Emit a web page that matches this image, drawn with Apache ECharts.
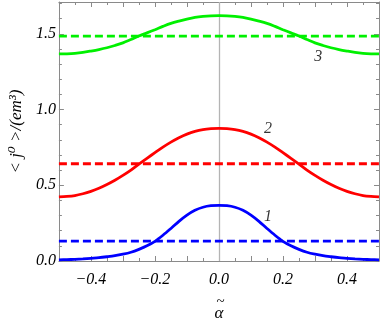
<!DOCTYPE html>
<html>
<head>
<meta charset="utf-8">
<script src="https://cdn.jsdelivr.net/npm/echarts@6/dist/echarts.min.js"></script>
<style>
  html, body { margin: 0; padding: 0; background: #fff; }
  #main { width: 382px; height: 327px; }
</style>
</head>
<body>
<div id="main"></div>
<script>
// alpha values (x), read every 0.025
const alphas = [-0.5, -0.475, -0.45, -0.425, -0.4, -0.375, -0.35, -0.325, -0.3, -0.275,
  -0.25, -0.225, -0.2, -0.175, -0.15, -0.125, -0.1, -0.075, -0.05, -0.025, 0,
  0.025, 0.05, 0.075, 0.1, 0.125, 0.15, 0.175, 0.2, 0.225, 0.25,
  0.275, 0.3, 0.325, 0.35, 0.375, 0.4, 0.425, 0.45, 0.475, 0.5];

// curve 1 (blue)
const curve1 = [0.008, 0.009, 0.011, 0.014, 0.018, 0.022, 0.028, 0.035, 0.045, 0.058,
  0.077, 0.1, 0.13, 0.17, 0.215, 0.262, 0.303, 0.335, 0.355, 0.365, 0.367,
  0.365, 0.355, 0.335, 0.303, 0.262, 0.215, 0.17, 0.13, 0.1, 0.077,
  0.058, 0.045, 0.035, 0.028, 0.022, 0.018, 0.014, 0.011, 0.009, 0.008];
// curve 2 (red)
const curve2 = [0.423, 0.426, 0.432, 0.444, 0.46, 0.48, 0.505, 0.533, 0.565, 0.6,
  0.64, 0.678, 0.715, 0.752, 0.785, 0.814, 0.838, 0.856, 0.868, 0.874, 0.876,
  0.874, 0.868, 0.856, 0.838, 0.814, 0.785, 0.752, 0.715, 0.678, 0.64,
  0.6, 0.565, 0.533, 0.505, 0.48, 0.46, 0.444, 0.432, 0.426, 0.423];
// curve 3 (green)
const curve3 = [1.367, 1.368, 1.371, 1.377, 1.386, 1.396, 1.408, 1.423, 1.44, 1.462,
  1.485, 1.506, 1.527, 1.549, 1.569, 1.584, 1.597, 1.608, 1.615, 1.619, 1.62,
  1.619, 1.615, 1.608, 1.597, 1.584, 1.569, 1.549, 1.527, 1.506, 1.485,
  1.462, 1.44, 1.423, 1.408, 1.396, 1.386, 1.377, 1.371, 1.368, 1.367];

// dashed averages
const avgValues = [0.131, 0.642, 1.485];
const colors = ['#0000ff', '#ff0000', '#00f000'];

// curve labels
const labelNames = ['1', '2', '3'];
const labelX = [0.153, 0.153, 0.31];
const labelY = [0.29, 0.87, 1.35];

const serif = '"Liberation Serif", "DejaVu Serif", serif';
const frameColor = '#8a8a8a';

const curves = [curve1, curve2, curve3];
const series = [];

curves.forEach((c, i) => {
  series.push({
    type: 'line',
    data: alphas.map((a, k) => [a, c[k]]),
    smooth: 0.3,
    showSymbol: false,
    lineStyle: { color: colors[i], width: 2.8 },
    z: 3
  });
});

avgValues.forEach((v, i) => {
  series.push({
    type: 'line',
    data: [[alphas[0], v], [alphas[alphas.length - 1], v]],
    showSymbol: false,
    lineStyle: { color: colors[i], width: 2.8, type: [8, 4] },
    z: 4
  });
});

// vertical reference line at alpha = 0
series[0].markLine = {
  silent: true,
  symbol: 'none',
  label: { show: false },
  lineStyle: { color: '#b4b4b4', width: 1.3, type: 'solid' },
  data: [{ xAxis: 0 }],
  z: 1
};

series.push({
  type: 'scatter',
  symbolSize: 0,
  data: labelNames.map((n, i) => ({ name: n, value: [labelX[i], labelY[i]] })),
  label: {
    show: true,
    position: 'inside',
    formatter: (p) => p.name,
    fontFamily: serif,
    fontStyle: 'italic',
    fontSize: 16,
    color: '#000'
  },
  z: 5
});

const tickFont = { fontFamily: serif, fontStyle: 'italic', fontSize: 16, color: '#000' };

const xBase = {
  type: 'value',
  min: -0.5,
  max: 0.5,
  interval: 0.1,
  axisLine: { show: true, onZero: false, lineStyle: { color: frameColor, width: 1 } },
  axisTick: { show: true, inside: true, length: 5, lineStyle: { color: frameColor } },
  minorTick: { show: true, splitNumber: 2, length: 3, lineStyle: { color: frameColor } },
  splitLine: { show: false }
};
const yBase = {
  type: 'value',
  min: 0,
  max: 1.71,
  interval: 0.5,
  axisLine: { show: true, onZero: false, lineStyle: { color: frameColor, width: 1 } },
  axisTick: { show: true, inside: true, length: 5, lineStyle: { color: frameColor } },
  minorTick: { show: true, splitNumber: 5, length: 3, lineStyle: { color: frameColor } },
  splitLine: { show: false }
};

const option = {
  animation: false,
  backgroundColor: '#fff',
  grid: { left: 52, right: 1, top: 2, bottom: 51 },
  xAxis: [
    Object.assign({}, xBase, {
      position: 'bottom',
      name: '{t|~}\n{a|α}',
      nameLocation: 'middle',
      nameGap: 37,
      nameTextStyle: {
        rich: {
          t: { fontFamily: serif, fontSize: 15, lineHeight: 8, color: '#000', align: 'center', padding: [0, 0, 0, 3] },
          a: { fontFamily: serif, fontStyle: 'italic', fontSize: 17, lineHeight: 15, color: '#000', align: 'center' }
        }
      },
      axisLabel: Object.assign({}, tickFont, {
        margin: 11,
        formatter: (v) => {
          const r = Math.round(v * 10);
          if (r % 2 !== 0) return '';
          return (r / 10).toFixed(1).replace('-', '\u2212');
        }
      })
    }),
    Object.assign({}, xBase, { position: 'top', axisLabel: { show: false } })
  ],
  yAxis: [
    Object.assign({}, yBase, {
      position: 'left',
      name: '< j\u2070 >/(em\u00b3)',
      nameLocation: 'middle',
      nameRotate: 90,
      nameGap: 31,
      nameTextStyle: { fontFamily: serif, fontStyle: 'italic', fontSize: 17, color: '#000' },
      axisLabel: Object.assign({}, tickFont, {
        margin: 3,
        showMaxLabel: false,
        formatter: (v) => v.toFixed(1)
      })
    }),
    Object.assign({}, yBase, { position: 'right', axisLabel: { show: false } })
  ],
  series: series
};

const chart = echarts.init(document.getElementById('main'));
chart.setOption(option);
</script>
</body>
</html>
